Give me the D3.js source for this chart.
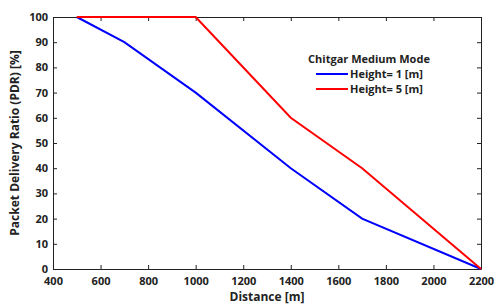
<!DOCTYPE html>
<html>
<head>
<meta charset="utf-8">
<script src="https://cdn.jsdelivr.net/npm/d3@7"></script>
<style>
  body { margin: 0; background: #fff; }
  svg { display: block; font-family: "Open Sans", sans-serif; font-weight: bold; }
</style>
</head>
<body>
<div id="svg-container"></div>
<script>
// data
const distH1 = [500, 700, 1000, 1400, 1700, 2200];
const pdrH1 = [100, 90, 70, 40, 20, 0];
const distH5 = [500, 1000, 1400, 1700, 2200];
const pdrH5 = [100, 100, 60, 40, 0];
const xTicks = [400, 600, 800, 1000, 1200, 1400, 1600, 1800, 2000, 2200];
const yTicks = [0, 10, 20, 30, 40, 50, 60, 70, 80, 90, 100];
const seriesNames = ["Height= 1 [m]", "Height= 5 [m]"];
const seriesColors = ["#0000ff", "#ff0000"];

const width = 494, height = 304;
const margin = { top: 17, right: 13, bottom: 35, left: 53 };

const svg = d3.select("#svg-container").append("svg")
  .attr("width", width).attr("height", height);

const xScale = d3.scaleLinear().domain([400, 2200]).range([margin.left, width - margin.right]);
const yScale = d3.scaleLinear().domain([0, 100]).range([height - margin.bottom, margin.top]);

// axes (ticks inside, box)
const tickLen = 4;
const xAxis = svg.append("g")
  .attr("transform", `translate(0,${height - margin.bottom})`)
  .call(d3.axisBottom(xScale).tickValues(xTicks).tickFormat(d3.format("d")).tickSize(-tickLen).tickPadding(6).tickSizeOuter(0));
const yAxis = svg.append("g")
  .attr("transform", `translate(${margin.left},0)`)
  .call(d3.axisLeft(yScale).tickValues(yTicks).tickSize(-tickLen).tickPadding(5).tickSizeOuter(0));
svg.append("g")
  .attr("transform", `translate(0,${margin.top})`)
  .call(d3.axisTop(xScale).tickValues(xTicks).tickSize(-tickLen).tickFormat("").tickSizeOuter(0));
svg.append("g")
  .attr("transform", `translate(${width - margin.right},0)`)
  .call(d3.axisRight(yScale).tickValues(yTicks).tickSize(-tickLen).tickFormat("").tickSizeOuter(0));

svg.selectAll(".domain, .tick line").attr("stroke", "#222").attr("stroke-width", 1);
svg.selectAll(".tick text")
  .attr("font-family", "Open Sans, sans-serif")
  .attr("font-weight", "bold")
  .attr("font-size", 11)
  .attr("fill", "#222");
xAxis.selectAll(".tick text").attr("dy", "0.9em");

// lines
const line = d3.line().x((d) => xScale(d[0])).y((d) => yScale(d[1]));
const series = [
  d3.zip(distH1, pdrH1),
  d3.zip(distH5, pdrH5)
];
series.forEach((s, i) => {
  svg.append("path")
    .datum(s)
    .attr("d", line)
    .attr("fill", "none")
    .attr("stroke", seriesColors[i])
    .attr("stroke-width", 2);
});

// axis labels
svg.append("text")
  .attr("x", (margin.left + width - margin.right) / 2)
  .attr("y", 301)
  .attr("text-anchor", "middle")
  .attr("font-size", 12)
  .attr("fill", "#222")
  .text("Distance [m]");

svg.append("text")
  .attr("transform", `translate(19,${(margin.top + height - margin.bottom) / 2}) rotate(-90)`)
  .attr("text-anchor", "middle")
  .attr("font-size", 12)
  .attr("fill", "#222")
  .text("Packet Delivery Ratio (PDR) [%]");

// legend
const legend = svg.append("g");
legend.append("text")
  .attr("x", 369).attr("y", 63)
  .attr("text-anchor", "middle")
  .attr("font-size", 11)
  .attr("fill", "#222")
  .text("Chitgar Medium Mode");
seriesNames.forEach((name, i) => {
  const y = 74 + i * 15;
  legend.append("line")
    .attr("x1", 316).attr("x2", 348)
    .attr("y1", y).attr("y2", y)
    .attr("stroke", seriesColors[i]).attr("stroke-width", 2);
  legend.append("text")
    .attr("x", 350).attr("y", y + 4)
    .attr("font-size", 11)
    .attr("fill", "#222")
    .text(name);
});
</script>
</body>
</html>
